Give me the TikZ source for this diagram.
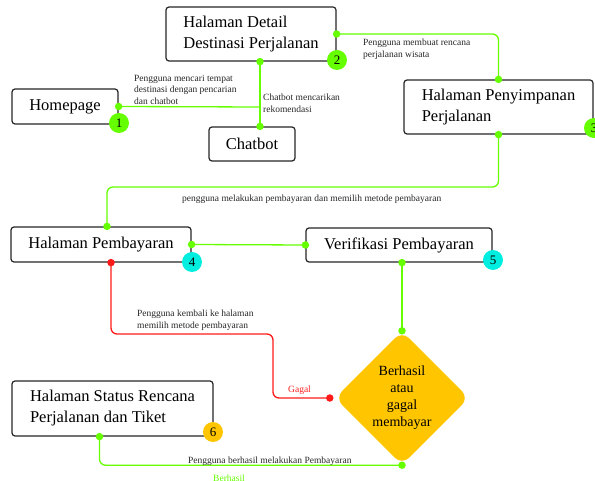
\documentclass[tikz,border=0pt]{standalone}
\usepackage{fontspec}
\setmainfont{Liberation Serif}
\usetikzlibrary{shapes.geometric,calc}
\definecolor{glime}{HTML}{66FF00}
\definecolor{gcyan}{HTML}{00EEE0}
\definecolor{gyellow}{HTML}{FFC600}
\definecolor{gred}{HTML}{FF1A1A}
\begin{document}
\begin{tikzpicture}[x=1pt,y=-1pt,
 box/.style={draw=black!85, line width=1.2pt, rounded corners=3pt, fill=white, align=left, inner sep=0pt, font=\fontsize{16.5}{21}\selectfont},
 lbl/.style={font=\fontsize{9.5}{11.5}\selectfont, align=left, text=black!85, inner sep=0pt, anchor=north west},
 gl/.style={draw=glime, line width=1.3pt, rounded corners=6pt},
 rl/.style={draw=gred, line width=1.3pt, rounded corners=6pt},
 gdot/.style={circle, fill=glime, minimum size=7.5pt, inner sep=0pt},
 rdot/.style={circle, fill=gred, minimum size=7.5pt, inner sep=0pt},
 num/.style={circle, minimum size=20pt, inner sep=0pt, font=\fontsize{13}{13}\selectfont}]
\useasboundingbox (0,0) rectangle (595,481);

% boxes
\node[box, minimum width=106pt, minimum height=35pt] (home) at (65,106.5) {Homepage};
\node[box, minimum width=170pt, minimum height=54pt] (detail) at (251,34) {Halaman Detail\\Destinasi Perjalanan};
\node[box, minimum width=86pt, minimum height=34pt] (chatbot) at (252,144) {Chatbot};
\node[box, minimum width=189pt, minimum height=54pt] (simpan) at (498.5,107) {Halaman Penyimpanan\\Perjalanan};
\node[box, minimum width=180pt, minimum height=35pt] (bayar) at (101,244.5) {Halaman Pembayaran};
\node[box, minimum width=186pt, minimum height=34pt] (verif) at (399,245) {Verifikasi Pembayaran};
\node[box, minimum width=201pt, minimum height=55pt] (status) at (112.5,408.5) {Halaman Status Rencana\\Perjalanan dan Tiket};
\node[diamond, aspect=1, fill=gyellow, minimum width=134pt, minimum height=134pt, inner sep=0pt, rounded corners=10pt, align=center, font=\fontsize{14}{17}\selectfont] (dec) at (402,398) {Berhasil\\atau\\gagal\\membayar};

% coordinates
\coordinate (j1) at (260,107);
\coordinate (c3) at (300,187);
\coordinate (r1) at (273,334);
\coordinate (b0) at ([xshift=10pt]bayar.south);
\coordinate (bn) at ([xshift=6pt]bayar.north);
\coordinate (dw) at ([xshift=-5pt]dec.west);
\coordinate (s0) at ([xshift=-13pt]status.south);
\coordinate (vs) at (dec.north |- verif.south);

% connectors
\draw[gl] (home.east) -- (j1);
\draw[gl] (detail.south -| j1) -- (chatbot.north -| j1);
\draw[gl] (detail.east) -| (simpan.north);
\draw[gl] (simpan.south) |- (c3) -| (bn);
\draw[gl] (bayar.east) -- (verif.west);
\draw[gl] (vs) -- (dec.north);
\draw[rl] (b0) |- (r1) |- (dw);
\draw[gl] (s0) |- (dec.south);

% dots
\node[gdot] (d1) at (home.east) {};
\node[gdot] (d2) at (detail.south -| j1) {};
\node[gdot] (d3) at (chatbot.north -| j1) {};
\node[gdot] (d4) at (detail.east) {};
\node[gdot] (d5) at (simpan.north) {};
\node[gdot] (d6) at (simpan.south) {};
\node[gdot] (d7) at (bn) {};
\node[gdot] (d8) at (bayar.east) {};
\node[gdot] (d9) at (verif.west) {};
\node[gdot] (d10) at (vs) {};
\node[gdot] (d11) at (dec.north) {};
\node[rdot] (d12) at (b0) {};
\node[rdot] (d13) at (dw) {};
\node[gdot] (d14) at (s0) {};
\node[gdot] (d15) at (dec.south) {};

% number badges
\node[num, fill=glime] (n1) at (119,123) {1};
\node[num, fill=glime] (n2) at (337,60) {2};
\node[num, fill=glime] (n3) at (594,128) {3};
\node[num, fill=gcyan] (n4) at (192,262) {4};
\node[num, fill=gcyan] (n5) at (493,260) {5};
\node[num, fill=gyellow] (n6) at (213,432) {6};

% labels
\node[lbl] (l1) at (134,75) {Pengguna mencari tempat\\destinasi dengan pencarian\\dan chatbot};
\node[lbl] (l2) at (263,94) {Chatbot mencarikan\\rekomendasi};
\node[lbl] (l3) at (363,39) {Pengguna membuat rencana\\perjalanan wisata};
\node[lbl] (l4) at (182,195) {pengguna melakukan pembayaran dan memilih metode pembayaran};
\node[lbl] (l5) at (137,310) {Pengguna kembali ke halaman\\memilih metode pembayaran};
\node[lbl, text=gred] (l6) at (288,386) {Gagal};
\node[lbl] (l7) at (188,457) {Pengguna berhasil melakukan Pembayaran};
\node[lbl, text=glime] (l8) at (213,475) {Berhasil};
\end{tikzpicture}
\end{document}
